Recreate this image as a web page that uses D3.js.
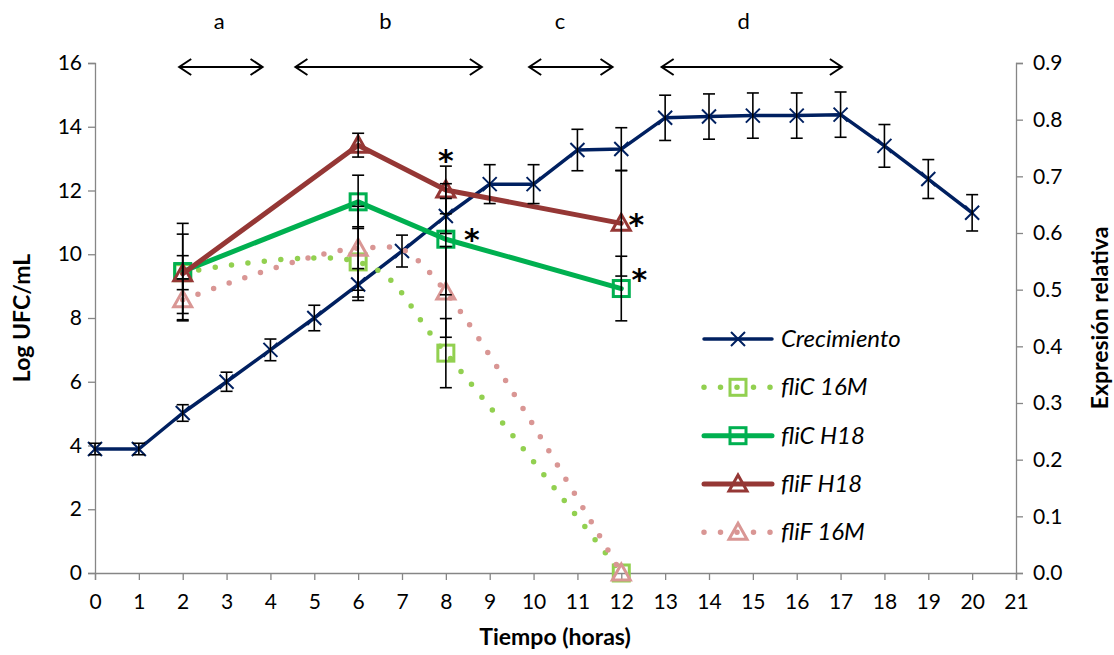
<!DOCTYPE HTML>
<html>
<head>
<meta charset="utf-8">
<script src="https://d3js.org/d3.v7.min.js"></script>
<style>
  body { margin: 0; background: white; }
  svg text { font-family: Lato, "Open Sans", sans-serif; fill: #000; }
</style>
</head>
<body onload="init()">
<svg id="svgMain" width="1114" height="655"></svg>

<script>
// ---- data ----
const hours = [0,1,2,3,4,5,6,7,8,9,10,11,12,13,14,15,16,17,18,19,20];
const growth = [3.89,3.89,5.02,6.0,7.0,8.0,9.05,10.1,11.2,12.2,12.2,13.27,13.3,14.28,14.32,14.35,14.35,14.38,13.4,12.36,11.3];
const growthErr = [0.18,0.18,0.26,0.3,0.34,0.4,0.5,0.5,0.55,0.61,0.61,0.65,0.67,0.71,0.71,0.71,0.71,0.71,0.67,0.61,0.57];

const exprHours = [2,6,8,12];
const fliC16M = [0.53,0.549,0.388,0];
const fliC16MErr = [0.03,0.062,0.061,0];
const fliCH18 = [0.532,0.655,0.589,0.502];
const fliCH18Err = [0.085,0.047,0.098,0.057];
const fliFH18 = [0.528,0.755,0.676,0.617];
const fliFH18Err = [0.07,0.021,0.042,0.093];
const fliF16M = [0.482,0.573,0.496,0];
const fliF16MErr = [0.037,0.074,0.08,0];

const xTicks = [0,1,2,3,4,5,6,7,8,9,10,11,12,13,14,15,16,17,18,19,20,21];
const leftTicks = [0,2,4,6,8,10,12,14,16];
const rightTicks = [0,0.1,0.2,0.3,0.4,0.5,0.6,0.7,0.8,0.9];

// phases on top of the chart
const phases = [
  {label: "a", from: 1.92, to: 3.82, at: 2.83},
  {label: "b", from: 4.57, to: 8.82, at: 6.62},
  {label: "c", from: 9.9, to: 11.8, at: 10.6},
  {label: "d", from: 12.92, to: 17.03, at: 14.79}
];

// significance marks: series, hour
const stars = [
  {series: "fliF H18", hour: 8, dx: 0, dy: -38},
  {series: "fliC H18", hour: 8, dx: 26, dy: -8},
  {series: "fliF H18", hour: 12, dx: 15, dy: -7},
  {series: "fliC H18", hour: 12, dx: 18, dy: -18}
];

function init() {
  const svg = d3.select("#svgMain");

  const xs = d3.scaleLinear().domain([0,21]).range([95,1016]);
  const yl = d3.scaleLinear().domain([0,16]).range([573,63]);
  const yr = d3.scaleLinear().domain([0,0.9]).range([573,63]);

  const axisColor = "#868686";

  // axes
  const xAxis = svg.append("g").attr("transform", "translate(0,573)")
    .call(d3.axisBottom(xs).tickValues(xTicks).tickFormat(d3.format("d")).tickSize(7).tickPadding(14));
  const lAxis = svg.append("g").attr("transform", "translate(95,0)")
    .call(d3.axisLeft(yl).tickValues(leftTicks).tickSize(7).tickPadding(6));
  const rAxis = svg.append("g").attr("transform", "translate(1016,0)")
    .call(d3.axisRight(yr).tickValues(rightTicks).tickFormat(d3.format(".1f")).tickSize(7).tickPadding(10));

  [xAxis, lAxis, rAxis].forEach(a => {
    a.selectAll("path, line").attr("stroke", axisColor).attr("stroke-width", 1.3);
    a.selectAll("text").style("font-size", "21px").attr("fill", "#000");
  });

  // axis titles
  svg.append("text").attr("x", 555).attr("y", 645).attr("text-anchor", "middle")
    .style("font-size", "23px").style("font-weight", "bold").text("Tiempo (horas)");
  svg.append("text").attr("transform", "translate(30,318) rotate(-90)").attr("text-anchor", "middle")
    .style("font-size", "23px").style("font-weight", "bold").text("Log UFC/mL");
  svg.append("text").attr("transform", "translate(1108,318) rotate(-90)").attr("text-anchor", "middle")
    .style("font-size", "23px").style("font-weight", "bold").text("Expresión relativa");

  // phase arrows
  const ph = svg.append("g");
  phases.forEach(p => {
    const x1 = xs(p.from), x2 = xs(p.to), y = 67;
    ph.append("line").attr("x1", x1).attr("x2", x2).attr("y1", y).attr("y2", y)
      .attr("stroke", "#000").attr("stroke-width", 2);
    ph.append("path").attr("d", `M${x1+12},${y-8} L${x1},${y} L${x1+12},${y+8}`)
      .attr("fill", "none").attr("stroke", "#000").attr("stroke-width", 2);
    ph.append("path").attr("d", `M${x2-12},${y-8} L${x2},${y} L${x2-12},${y+8}`)
      .attr("fill", "none").attr("stroke", "#000").attr("stroke-width", 2);
    ph.append("text").attr("x", xs(p.at)).attr("y", 29).attr("text-anchor", "middle")
      .style("font-size", "22px").text(p.label);
  });

  // series definitions
  const series = [
    {name: "Crecimiento", xv: hours, yv: growth, err: growthErr, y: yl, color: "#002060", width: 3.5, dotted: false, marker: "x"},
    {name: "fliC 16M", xv: exprHours, yv: fliC16M, err: fliC16MErr, y: yr, color: "#92D050", width: 5.5, dotted: true, marker: "square"},
    {name: "fliC H18", xv: exprHours, yv: fliCH18, err: fliCH18Err, y: yr, color: "#00B050", width: 5, dotted: false, marker: "square"},
    {name: "fliF H18", xv: exprHours, yv: fliFH18, err: fliFH18Err, y: yr, color: "#953735", width: 5, dotted: false, marker: "triangle"},
    {name: "fliF 16M", xv: exprHours, yv: fliF16M, err: fliF16MErr, y: yr, color: "#D99694", width: 5.5, dotted: true, marker: "triangle"}
  ];

  function drawMarker(g, kind, cx, cy, color) {
    if (kind === "x") {
      g.append("path").attr("d", `M${cx-7},${cy-7} L${cx+7},${cy+7} M${cx-7},${cy+7} L${cx+7},${cy-7}`)
        .attr("stroke", color).attr("stroke-width", 2).attr("fill", "none");
    } else if (kind === "square") {
      g.append("rect").attr("x", cx-8).attr("y", cy-8).attr("width", 16).attr("height", 16)
        .attr("stroke", color).attr("stroke-width", 3).attr("fill", "none");
    } else {
      g.append("path").attr("d", `M${cx},${cy-9} L${cx+9},${cy+7} L${cx-9},${cy+7} Z`)
        .attr("stroke", color).attr("stroke-width", 3).attr("fill", "none").attr("stroke-linejoin", "miter");
    }
  }

  const plot = svg.append("g");

  series.forEach(s => {
    const pts = s.xv.map((h, i) => [xs(h), s.y(s.yv[i])]);
    const line = d3.line().curve(s.dotted ? d3.curveCardinal : d3.curveLinear);
    plot.append("path").attr("d", line(pts))
      .attr("fill", "none").attr("stroke", s.color).attr("stroke-width", s.width)
      .attr("stroke-linecap", "round").attr("stroke-linejoin", "round")
      .attr("stroke-dasharray", s.dotted ? "0 16.5" : null);
    pts.forEach(p => drawMarker(plot, s.marker, p[0], p[1], s.color));
  });

  // error bars on top
  const eb = svg.append("g").attr("stroke", "#000").attr("stroke-width", 1.6);
  series.forEach(s => {
    s.xv.forEach((h, i) => {
      if (!s.err[i]) return;
      const x = xs(h), y1 = s.y(s.yv[i] + s.err[i]), y2 = s.y(s.yv[i] - s.err[i]);
      eb.append("line").attr("x1", x).attr("x2", x).attr("y1", y1).attr("y2", y2);
      eb.append("line").attr("x1", x-6).attr("x2", x+6).attr("y1", y1).attr("y2", y1);
      eb.append("line").attr("x1", x-6).attr("x2", x+6).attr("y1", y2).attr("y2", y2);
    });
  });

  // asterisks
  stars.forEach(st => {
    const s = series.find(d => d.name === st.series);
    const i = s.xv.indexOf(st.hour);
    svg.append("text").attr("x", xs(st.hour) + st.dx).attr("y", s.y(s.yv[i]) + st.dy + 19)
      .attr("text-anchor", "middle").style("font-family", "'DejaVu Sans', sans-serif")
      .style("font-size", "30px").style("font-weight", "bold").text("*");
  });

  // legend
  const legY = [339, 387.3, 435.7, 484, 532.3];
  const leg = svg.append("g");
  series.forEach((s, i) => {
    const y = legY[i];
    leg.append("line").attr("x1", 704).attr("x2", 772).attr("y1", y).attr("y2", y)
      .attr("stroke", s.color).attr("stroke-width", s.width).attr("stroke-linecap", "round")
      .attr("stroke-dasharray", s.dotted ? "0 16.5" : null);
    drawMarker(leg, s.marker, 738, y, s.color);
    leg.append("text").attr("x", 781).attr("y", y + 8)
      .style("font-size", "24px").style("font-style", "italic").text(s.name);
  });
}
</script>
</body>
</html>
